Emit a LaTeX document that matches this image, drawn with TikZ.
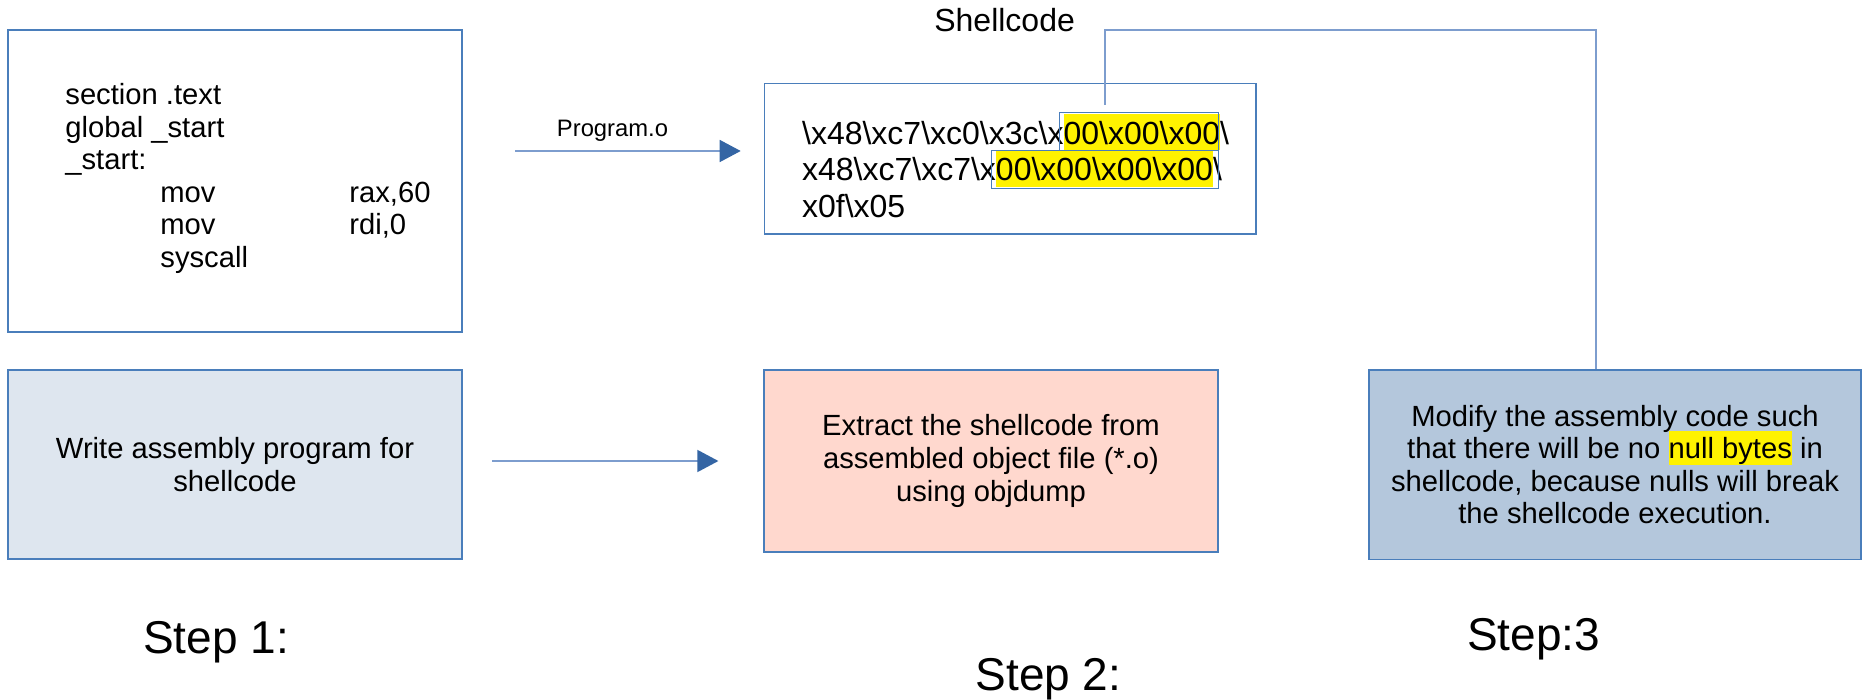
\documentclass[tikz,border=0pt]{standalone}
\usepackage{fontspec}
\setmainfont{Liberation Sans}
\usetikzlibrary{arrows.meta}
\usetikzlibrary{positioning}

\definecolor{frameblue}{RGB}{74,126,187}
\definecolor{lineblue}{RGB}{125,157,206}
\definecolor{headblue}{RGB}{52,101,164}
\definecolor{stepone}{RGB}{222,230,239}
\definecolor{steptwo}{RGB}{255,216,206}
\definecolor{stepthree}{RGB}{180,199,220}

\newcommand{\bsl}{\textbackslash}
\newcommand{\hilite}[2][16.65pt]{{\setlength{\fboxsep}{0pt}\smash{\colorbox{yellow}{\rule[-3pt]{0pt}{#1}#2}}}}

\begin{document}
\begin{tikzpicture}[x=0.5pt, y=-0.5pt,
    box/.style={draw=frameblue, line width=0.75pt, rectangle, inner sep=0pt},
    body/.style={font=\fontsize{14.6}{16.3}\selectfont, align=center},
    flow/.style={draw=lineblue, line width=0.75pt, -{Triangle[length=10.5pt, width=11pt, color=headblue]}},
    steplabel/.style={font=\fontsize{23}{27}\selectfont, anchor=base, inner sep=0pt}]

    \useasboundingbox (0,0) rectangle (1864,700);

    % top row: the code and the bytes
    \node[box, minimum width=227pt, minimum height=151pt] (asmbox) at (235,181) {};
    \node[font=\fontsize{14.6}{16.3}\selectfont, anchor=north west, inner sep=0pt] (asmcode) at (65,81.2) {%
        \begin{tabular}{@{}l@{}}
            section .text\\
            global \_start\\
            \_start:\\
            \hspace*{47.5pt}\makebox[94.5pt][l]{mov}rax,60\\
            \hspace*{47.5pt}\makebox[94.5pt][l]{mov}rdi,0\\
            \hspace*{47.5pt}syscall
        \end{tabular}};

    \node[box, minimum width=245.65pt, minimum height=75.35pt] (shellbox) at (1010.35,158.65) {};
    \node[font=\fontsize{16}{18.15}\selectfont, anchor=north west, inner sep=0pt] (shellhex) at (801.7,118.6) {%
        \begin{tabular}{@{}l@{}}
            \bsl x48\bsl xc7\bsl xc0\bsl x3c\bsl x\hilite[18pt]{00\bsl x00\bsl x00}\bsl\\
            x48\bsl xc7\bsl xc7\bsl x\hilite[18pt]{00\bsl x00\bsl x00\bsl x00}\bsl\\
            x0f\bsl x05
        \end{tabular}};
    \draw[frameblue, line width=0.5pt] (1059,113) rectangle (1218,150.7);
    \draw[frameblue, line width=0.5pt] (991.7,150.7) rectangle (1218,188.3);

    \node[font=\fontsize{16}{19}\selectfont, anchor=base, inner sep=0pt] (shelltitle) at (1004.6,32) {Shellcode};
    \node[font=\fontsize{11.9}{14}\selectfont, anchor=base, inner sep=0pt] (objname) at (612.5,136.7) {Program.o};

    \coordinate (objfrom) at (515,151);
    \coordinate (objto) at (740.7,151);
    \draw[flow] (objfrom) -- (objto);

    % bottom row: the three steps
    \node[box, fill=stepone, minimum width=227pt, minimum height=94.5pt, body] (step1box) at (235,464.5) {Write assembly program for\\shellcode};
    \node[box, fill=steptwo, minimum width=227pt, minimum height=91pt, body] (step2box) at (991,461) {Extract the shellcode from\\assembled object file (*.o)\\using objdump};
    \node[box, fill=stepthree, minimum width=246pt, minimum height=94.65pt, body] (step3box) at (1615,464.65) {Modify the assembly code such\\that there will be no \hilite{null bytes} in\\shellcode, because nulls will break\\the shellcode execution.};

    \coordinate (stepfrom) at (492,461);
    \coordinate (stepto) at (718.4,461);
    \draw[flow] (stepfrom) -- (stepto);

    \draw[lineblue, line width=0.75pt] (1105,105) |- (1596,30) -- (1596,0 |- step3box.north);

    \node[steplabel] (steponelabel) at (216,653) {Step 1:};
    \node[steplabel] (steptwolabel) at (1048.5,690) {Step 2:};
    \node[steplabel] (stepthreelabel) at (1533.5,650) {Step:3};

\end{tikzpicture}
\end{document}
